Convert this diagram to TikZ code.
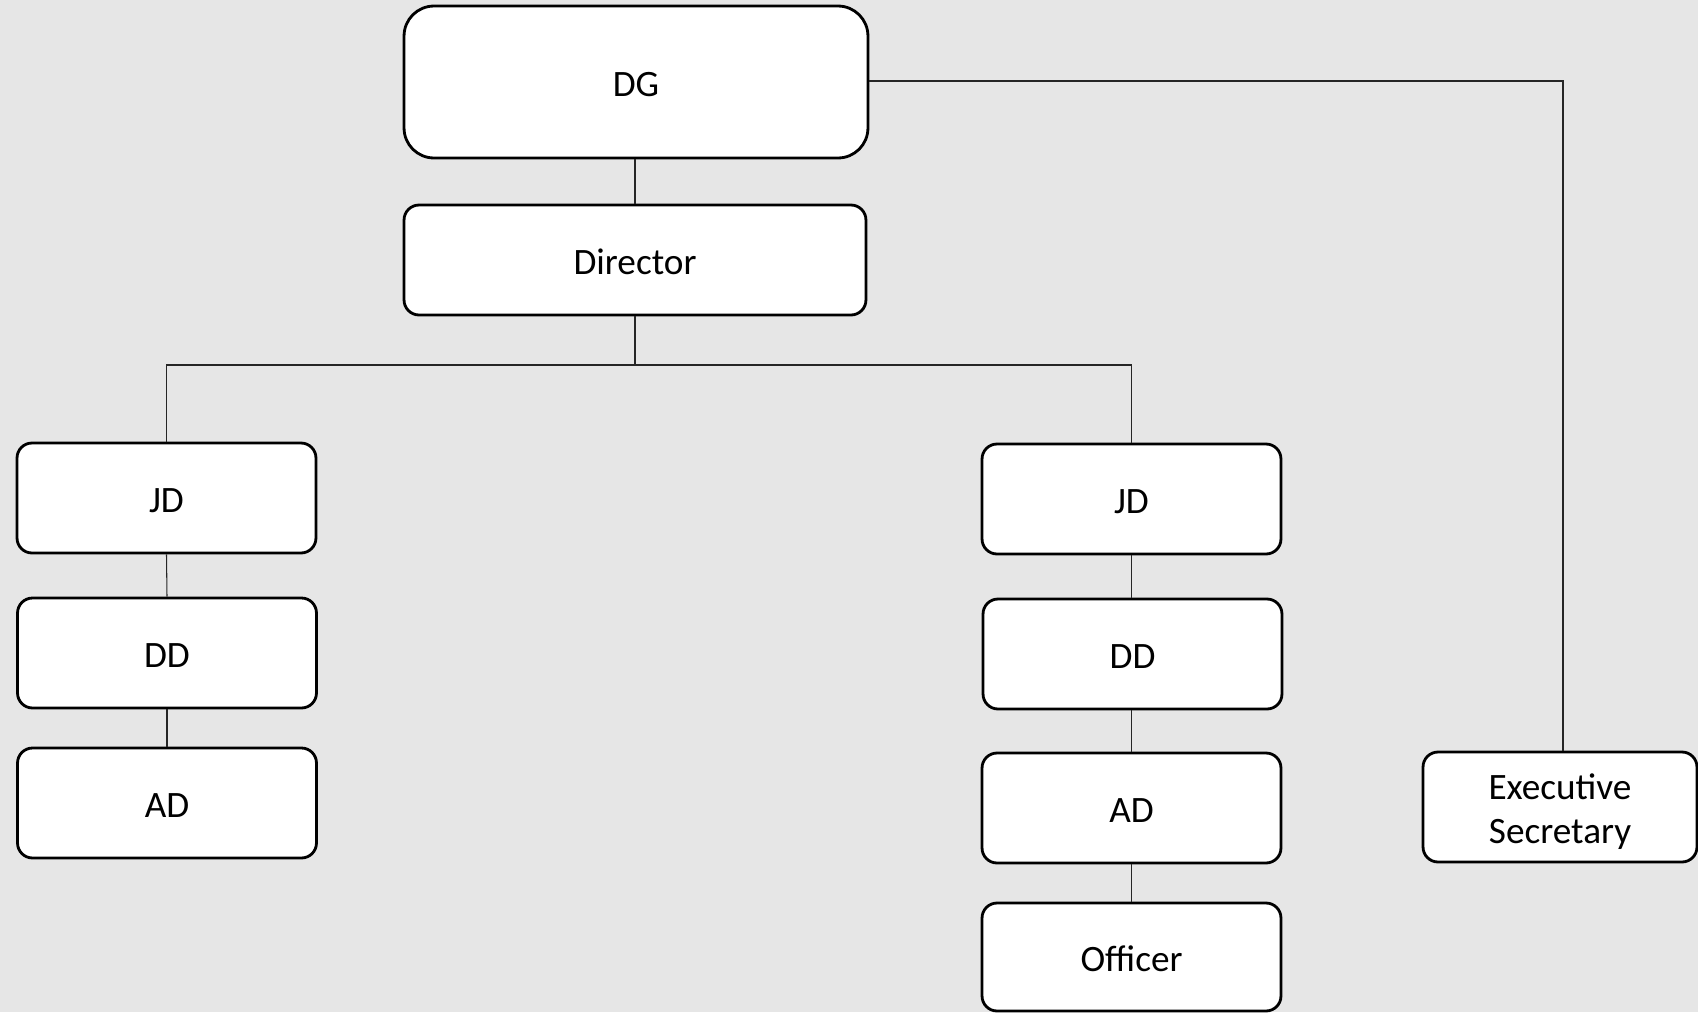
\documentclass[tikz,border=0pt]{standalone}
\usepackage{fontspec}
\setmainfont{Carlito}
\begin{document}
\begin{tikzpicture}[x=0.02cm,y=-0.02cm,
  box/.style={draw=black, fill=white, line width=1.6pt, rounded corners=0.3cm,
    minimum width=5.98cm, minimum height=2.2cm, inner sep=0pt, align=center,
    text height=17pt, text depth=0pt, font=\fontsize{21.2}{25}\selectfont},
  link/.style={draw=black!85, line width=0.6pt}]
  % canvas
  \fill[fill={rgb,255:red,230;green,230;blue,230}] (0,0) rectangle (1698,1012);
  \useasboundingbox (0,0) rectangle (1698,1012);

  % top of the hierarchy
  \node[box, rounded corners=0.6cm, minimum width=9.28cm, minimum height=3.04cm] (dg) at (636,82) {DG};
  \node[box, minimum width=9.24cm] (dir) at (635,260) {Director};

  % left branch
  \node[box] (ljd) at (166.5,498) {JD};
  \node[box] (ldd) at (167,653) {DD};
  \node[box] (lad) at (167,803) {AD};

  % right branch
  \node[box] (rjd) at (1131.5,499) {JD};
  \node[box] (rdd) at (1132.5,654) {DD};
  \node[box] (rad) at (1131.5,808) {AD};
  \node[box, minimum height=2.16cm] (off) at (1131.5,957) {Officer};

  % staff position (two lines: extra baselineskip in the text height)
  \node[box, minimum width=5.48cm, text height=42pt] (exe) at (1560,807) {Executive\\Secretary};

  % connectors
  \coordinate (bus) at (635,365);
  \coordinate (corner) at (1563,81);
  \draw[link] (dir.north) -- (dir.north |- dg.south);
  \draw[link] (dir.south) -- (bus);
  \draw[link] (ljd.north) -- (ljd.north |- bus) -- (rjd.north |- bus) -- (rjd.north);
  \draw[link] (ljd.south) -- (ldd.north);
  \draw[link] (ldd.south) -- (lad.north);
  \draw[link] (rjd.south) -- (rdd.north -| rjd.south);
  \draw[link] (rdd.south -| rad.north) -- (rad.north);
  \draw[link] (rad.south) -- (off.north);
  \draw[link] (dg.east |- corner) -- (corner) -- (corner |- exe.north);
\end{tikzpicture}
\end{document}
